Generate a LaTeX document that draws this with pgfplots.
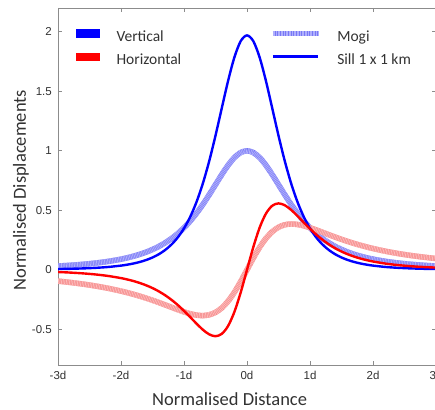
\documentclass[border=0pt]{standalone}
\usepackage{pgfplots}
\pgfplotsset{compat=1.18}
\usepackage{pgfplotstable}
\usepackage{fontspec}
\setmainfont{Carlito}
\newfontfamily\arialfont{Liberation Sans}
\definecolor{mogiB}{RGB}{120,120,245}
\definecolor{mogiBl}{RGB}{175,175,252}
\definecolor{mogiR}{RGB}{245,135,135}
\definecolor{mogiRl}{RGB}{252,185,185}
\definecolor{axgray}{RGB}{140,140,140}
\definecolor{txt}{RGB}{50,50,50}
\pgfplotstableread{
x mv mh sv sh
-3.0 0.03162 -0.09487 0.00623 -0.01849
-2.8 0.03805 -0.10654 0.00847 -0.02348
-2.6 0.04626 -0.12028 0.01174 -0.03022
-2.4 0.05690 -0.13656 0.01659 -0.03941
-2.2 0.07086 -0.15589 0.02390 -0.05204
-2.0 0.08944 -0.17889 0.03524 -0.06977
-1.9 0.10103 -0.19196 0.04318 -0.08121
-1.8 0.11454 -0.20617 0.05321 -0.09481
-1.7 0.13034 -0.22158 0.06601 -0.11109
-1.6 0.14888 -0.23821 0.08239 -0.13048
-1.5 0.17068 -0.25602 0.10346 -0.15362
-1.4 0.19637 -0.27492 0.13069 -0.18111
-1.3 0.22666 -0.29466 0.16599 -0.21360
-1.2 0.26238 -0.31486 0.21183 -0.25162
-1.1 0.30438 -0.33482 0.27133 -0.29543
-1.0 0.35355 -0.35355 0.34826 -0.34472
-0.9 0.41067 -0.36960 0.44697 -0.39819
-0.8 0.47613 -0.38090 0.57193 -0.45290
-0.7 0.54982 -0.38487 0.72693 -0.50369
-0.6 0.63051 -0.37831 0.91331 -0.54242
-0.5 0.71554 -0.35777 1.12769 -0.55812
-0.4 0.80042 -0.32017 1.35930 -0.53820
-0.3 0.87874 -0.26362 1.58819 -0.47162
-0.2 0.94287 -0.18857 1.78600 -0.35357
-0.1 0.98519 -0.09852 1.92160 -0.19021
0.0 1.00000 0.00000 1.97000 0.00000
0.1 0.98519 0.09852 1.92160 0.19021
0.2 0.94287 0.18857 1.78600 0.35357
0.3 0.87874 0.26362 1.58819 0.47162
0.4 0.80042 0.32017 1.35930 0.53820
0.5 0.71554 0.35777 1.12769 0.55812
0.6 0.63051 0.37831 0.91331 0.54242
0.7 0.54982 0.38487 0.72693 0.50369
0.8 0.47613 0.38090 0.57193 0.45290
0.9 0.41067 0.36960 0.44697 0.39819
1.0 0.35355 0.35355 0.34826 0.34472
1.1 0.30438 0.33482 0.27133 0.29543
1.2 0.26238 0.31486 0.21183 0.25162
1.3 0.22666 0.29466 0.16599 0.21360
1.4 0.19637 0.27492 0.13069 0.18111
1.5 0.17068 0.25602 0.10346 0.15362
1.6 0.14888 0.23821 0.08239 0.13048
1.7 0.13034 0.22158 0.06601 0.11109
1.8 0.11454 0.20617 0.05321 0.09481
1.9 0.10103 0.19196 0.04318 0.08121
2.0 0.08944 0.17889 0.03524 0.06977
2.2 0.07086 0.15589 0.02390 0.05204
2.4 0.05690 0.13656 0.01659 0.03941
2.6 0.04626 0.12028 0.01174 0.03022
2.8 0.03805 0.10654 0.00847 0.02348
3.0 0.03162 0.09487 0.00623 0.01849
}\data
\begin{document}
\begin{tikzpicture}
\begin{axis}[
  scale only axis,
  width=378pt, height=357pt,
  xmin=-3, xmax=3, ymin=-0.8, ymax=2.2,
  axis line style={axgray, line width=0.9pt},
  tick style={axgray, line width=0.8pt},
  major tick length=4pt,
  tick align=inside,
  xtick={-3,-2,-1,0,1,2,3},
  xticklabels={-3d,-2d,-1d,0d,1d,2d,3d},
  ytick={-0.5,0,0.5,1,1.5,2},
  yticklabels={-0.5,0,0.5,1,1.5,2},
  ticklabel style={font=\arialfont\fontsize{11.5}{13}\selectfont, text=txt},
  xticklabel style={inner sep=0pt, yshift=-6pt},
  yticklabel style={inner sep=0pt, xshift=-6pt},
  xlabel={Normalised Distance},
  ylabel={Normalised Displacements},
  label style={font=\fontsize{18.5}{22}\selectfont, text=txt},
  xlabel style={at={(axis description cs:0.454,0)}, anchor=base, yshift=-40pt},
  ylabel style={at={(axis description cs:-0.0847,0.49)}, anchor=base},
  legend columns=2,
  legend cell align=left,
  legend style={draw=none, fill=none, inner sep=0pt, outer sep=0pt,
    at={(axis description cs:0.048,0.94)}, anchor=north west,
    font=\fontsize{15.5}{18}\selectfont, text=txt,
    nodes={inner sep=0pt, text height=11pt, text depth=3pt},
    column sep=17pt, row sep=8pt,
    /tikz/every even column/.append style={column sep=89pt}},
]
\addlegendimage{legend image code/.code={\fill[blue] (0pt,0.5pt) rectangle (23pt,8pt);}}
\addlegendentry{Vertical}
\addlegendimage{legend image code/.code={\draw[mogiB, line width=5pt] (0pt,4.3pt) -- (45pt,4.3pt);
  \draw[mogiBl, line width=5pt, dash pattern=on 0.8pt off 0.8pt] (0pt,4.3pt) -- (45pt,4.3pt);}}
\addlegendentry{Mogi}
\addlegendimage{legend image code/.code={\fill[red] (0pt,0.5pt) rectangle (23pt,8pt);}}
\addlegendentry{Horizontal}
\addlegendimage{legend image code/.code={\draw[blue, line width=2.8pt] (0pt,4.3pt) -- (45pt,4.3pt);}}
\addlegendentry{Sill 1 x 1 km}
\addplot[mogiB, line width=5.5pt, smooth, forget plot] table[x=x, y=mv] {\data};
\addplot[mogiBl, line width=5.5pt, smooth, dash pattern=on 0.8pt off 0.8pt, forget plot] table[x=x, y=mv] {\data};
\addplot[mogiR, line width=5.5pt, smooth, forget plot] table[x=x, y=mh] {\data};
\addplot[mogiRl, line width=5.5pt, smooth, dash pattern=on 0.8pt off 0.8pt, forget plot] table[x=x, y=mh] {\data};
\addplot[blue, line width=2.4pt, smooth, forget plot] table[x=x, y=sv] {\data};
\addplot[red, line width=2.4pt, smooth, forget plot] table[x=x, y=sh] {\data};
\end{axis}
\pgfresetboundingbox
\useasboundingbox ([xshift=-58pt,yshift=-44pt]current axis.south west) rectangle ([xshift=-1pt,yshift=8pt]current axis.north east);
\end{tikzpicture}
\end{document}
